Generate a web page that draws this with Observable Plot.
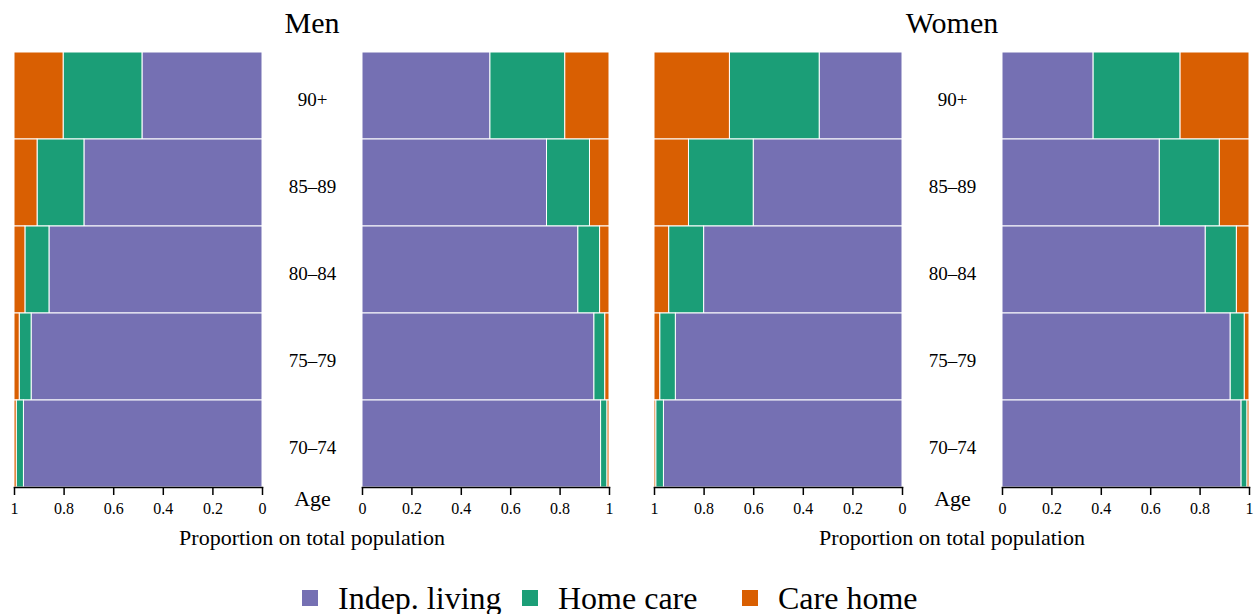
<!DOCTYPE html>
<html>
<head>
<meta charset="utf-8">
<script src="https://cdn.jsdelivr.net/npm/d3@7"></script>
<script src="https://cdn.jsdelivr.net/npm/@observablehq/plot@0.6"></script>
<style>
  html, body { margin: 0; padding: 0; background: white; }
  #chart { position: relative; width: 1255px; height: 614px; font-family: "Liberation Serif", "Times New Roman", serif; color: black; }
  #chart > svg { position: absolute; top: 0; font-family: "Liberation Serif", serif; }
  #chart svg text { font-family: "Liberation Serif", serif; }
  .title { position: absolute; font-size: 30px; line-height: 1; transform: translateX(-50%); white-space: nowrap; }
  .xlabel { position: absolute; font-size: 22px; line-height: 1; transform: translateX(-50%); white-space: nowrap; }
  .legend { position: absolute; top: 582px; left: 302px; display: flex; align-items: center; font-size: 32px; line-height: 1; }
  .legend .item { display: flex; align-items: center; width: 220px; }
  .legend .sw { width: 16px; height: 16px; margin-right: 20px; flex: none; }
</style>
</head>
<body>
<div id="chart"></div>
<script>
// Age groups, oldest at the top
const ages = ["90+", "85–89", "80–84", "75–79", "70–74"];
const statuses = ["Indep. living", "Home care", "Care home"];
const colors = ["#7570b3", "#1b9e77", "#d95f02"];
const ticks = [0, 0.2, 0.4, 0.6, 0.8, 1];

// Men, first panel (axis runs 1 → 0)
const menLeftIndep = [0.484, 0.718, 0.859, 0.931, 0.962];
const menLeftHome  = [0.318, 0.189, 0.097, 0.048, 0.029];
const menLeftCare  = [0.198, 0.093, 0.044, 0.021, 0.009];

// Men, second panel (axis runs 0 → 1)
const menRightIndep = [0.518, 0.747, 0.874, 0.939, 0.966];
const menRightHome  = [0.303, 0.174, 0.088, 0.044, 0.026];
const menRightCare  = [0.179, 0.079, 0.038, 0.017, 0.008];

// Women, first panel (axis runs 1 → 0)
const womenLeftIndep = [0.334, 0.600, 0.800, 0.914, 0.962];
const womenLeftHome  = [0.362, 0.261, 0.141, 0.063, 0.031];
const womenLeftCare  = [0.304, 0.139, 0.059, 0.023, 0.007];

// Women, second panel (axis runs 0 → 1)
const womenRightIndep = [0.369, 0.637, 0.823, 0.924, 0.968];
const womenRightHome  = [0.352, 0.243, 0.126, 0.057, 0.024];
const womenRightCare  = [0.279, 0.120, 0.051, 0.019, 0.008];

const chart = document.getElementById("chart");
const fontFamily = "Liberation Serif";

function rowsOf(indep, home, care) {
  const rows = [];
  ages.forEach((age, i) => {
    rows.push({age, status: statuses[0], p: indep[i]});
    rows.push({age, status: statuses[1], p: home[i]});
    rows.push({age, status: statuses[2], p: care[i]});
  });
  return rows;
}

// One stacked-bar panel; panels with reversed x carry the age labels on their right
function panel({indep, home, care, reverse, left, marginLeft, marginRight, innerWidth}) {
  const rows = rowsOf(indep, home, care);
  const marks = [
    Plot.barX(rows, Plot.stackX({
      x: "p", y: "age", fill: "status", order: statuses,
      stroke: "white", strokeWidth: 1
    })),
    Plot.frame({anchor: "bottom", stroke: "black", strokeWidth: 1.5}),
    Plot.axisX({
      ticks, tickSize: 8, tickPadding: 7, fontSize: 16, fontFamily,
      tickFormat: d => String(+d.toFixed(1)), strokeWidth: 1.5
    })
  ];
  if (reverse) {
    marks.push(
      Plot.axisY({anchor: "right", tickSize: 0, tickPadding: 50, textAnchor: "middle", fontSize: 19, fontFamily, dy: 4, label: null}),
      Plot.text(["Age"], {frameAnchor: "bottom-right", dx: 50, dy: 18, textAnchor: "middle", fontSize: 22, fontFamily})
    );
  } else {
    marks.push(Plot.axisY({ticks: []}));
  }
  const svg = Plot.plot({
    width: marginLeft + innerWidth + marginRight,
    height: 520,
    marginTop: 51,
    marginBottom: 33,
    marginLeft,
    marginRight,
    style: {fontFamily, background: "white", color: "black"},
    x: {domain: [0, 1], reverse, label: null},
    y: {domain: ages, padding: 0, label: null},
    color: {domain: statuses, range: colors},
    marks
  });
  svg.style.left = left + "px";
  chart.appendChild(svg);
}

panel({indep: menLeftIndep, home: menLeftHome, care: menLeftCare, reverse: true,
       left: 0, marginLeft: 14, marginRight: 78, innerWidth: 248});
panel({indep: menRightIndep, home: menRightHome, care: menRightCare, reverse: false,
       left: 340, marginLeft: 22, marginRight: 22, innerWidth: 247});
panel({indep: womenLeftIndep, home: womenLeftHome, care: womenLeftCare, reverse: true,
       left: 631, marginLeft: 23, marginRight: 78, innerWidth: 248});
panel({indep: womenRightIndep, home: womenRightHome, care: womenRightCare, reverse: false,
       left: 980, marginLeft: 22, marginRight: 6, innerWidth: 247});

// Titles and shared axis labels
function label(cls, text, x, y) {
  const d = document.createElement("div");
  d.className = cls;
  d.textContent = text;
  d.style.left = x + "px";
  d.style.top = y + "px";
  chart.appendChild(d);
}
label("title", "Men", 312, 8);
label("title", "Women", 952, 8);
label("xlabel", "Proportion on total population", 312, 527);
label("xlabel", "Proportion on total population", 952, 527);

// Legend
const legend = document.createElement("div");
legend.className = "legend";
statuses.forEach((s, i) => {
  const item = document.createElement("div");
  item.className = "item";
  const sw = document.createElement("div");
  sw.className = "sw";
  sw.style.background = colors[i];
  const t = document.createElement("span");
  t.textContent = s;
  item.appendChild(sw);
  item.appendChild(t);
  legend.appendChild(item);
});
chart.appendChild(legend);
</script>
</body>
</html>
